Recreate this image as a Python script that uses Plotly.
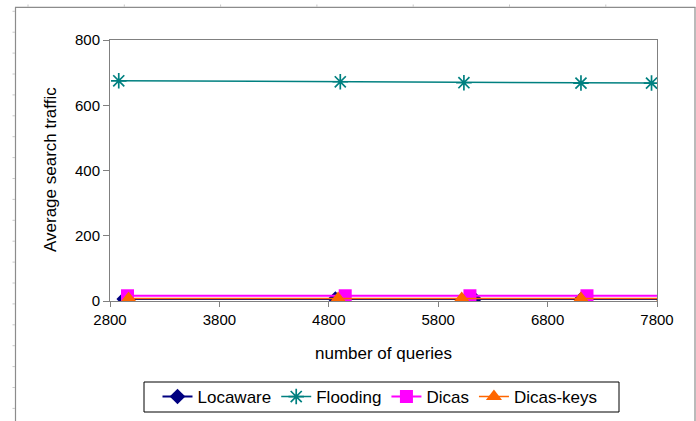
import plotly.graph_objects as go

# ---- data ----
locaware_x = [2930, 4860, 6130, 7110, 7860]
locaware_y = [6, 6, 6, 6, 6]

flooding_x = [2880, 4905, 6035, 7105, 7750]
flooding_y = [675, 672, 669, 668, 668]

dicas_x = [2960, 4950, 6090, 7160, 7860]
dicas_y = [16, 16, 16, 16, 16]

dicaskeys_x = [2970, 4885, 6015, 7105, 7860]
dicaskeys_y = [8, 8, 8, 8, 8]

x_ticks = [2800, 3800, 4800, 5800, 6800, 7800]
y_ticks = [0, 200, 400, 600, 800]

W, H = 696, 421
L, R, T, B = 110, 39, 40, 120
PW, PH = W - L - R, H - T - B

def px(x):
    return (x - L) / PW

def py(y):
    return (H - B - y) / PH

FONT = "Liberation Sans, Arial, sans-serif"

fig = go.Figure()
fig.add_trace(go.Scatter(x=locaware_x, y=locaware_y, name="Locaware", mode="lines+markers",
                         line=dict(color="#000080", width=2),
                         marker=dict(symbol="diamond", size=12, color="#000080")))
fig.add_trace(go.Scatter(x=flooding_x, y=flooding_y, name="Flooding", mode="lines+markers",
                         line=dict(color="#008080", width=1.5),
                         marker=dict(symbol="asterisk-open", size=13,
                                     line=dict(color="#008080", width=1.7))))
fig.add_trace(go.Scatter(x=dicas_x, y=dicas_y, name="Dicas", mode="lines+markers",
                         line=dict(color="#FF00FF", width=2),
                         marker=dict(symbol="square", size=13, color="#FF00FF")))
fig.add_trace(go.Scatter(x=dicaskeys_x, y=dicaskeys_y, name="Dicas-keys", mode="lines+markers",
                         line=dict(color="#FF6600", width=1.5),
                         marker=dict(symbol="triangle-up", size=14, color="#FF6600")))

# outer frame (sheet border remnants)
shapes = []
frame_col = "#8c8c8c"
shapes.append(dict(type="line", xref="paper", yref="paper", x0=px(15), x1=px(695.5), y0=py(7.3), y1=py(7.3),
                   line=dict(color=frame_col, width=1.2)))
shapes.append(dict(type="line", xref="paper", yref="paper", x0=px(15.5), x1=px(15.5), y0=py(7.3), y1=py(425),
                   line=dict(color=frame_col, width=1.2)))
shapes.append(dict(type="line", xref="paper", yref="paper", x0=px(695), x1=px(695), y0=py(7.3), y1=py(425),
                   line=dict(color=frame_col, width=1.2)))
for i in range(8):
    xx = 28 + 96.3 * i
    if xx < 694:
        shapes.append(dict(type="line", xref="paper", yref="paper", x0=px(xx), x1=px(xx), y0=py(4.5), y1=py(7),
                           line=dict(color="#c8c8c8", width=1)))
for i in range(20):
    yy = 11.3 + 20.9 * i
    if yy < 421:
        shapes.append(dict(type="line", xref="paper", yref="paper", x0=px(12.5), x1=px(15), y0=py(yy), y1=py(yy),
                           line=dict(color="#c8c8c8", width=1)))
# legend box
shapes.append(dict(type="rect", xref="paper", yref="paper", x0=px(144), x1=px(619), y0=py(382), y1=py(412),
                   line=dict(color="black", width=1), fillcolor="rgba(0,0,0,0)", layer="below"))

annotations = [
    dict(text="number of queries", xref="paper", yref="paper", x=px(383), y=py(353),
         showarrow=False, font=dict(size=17, color="black", family=FONT), xanchor="center", yanchor="middle"),
    dict(text="Average search traffic", xref="paper", yref="paper", x=px(50), y=py(170),
         showarrow=False, textangle=-90, font=dict(size=17, color="black", family=FONT),
         xanchor="center", yanchor="middle"),
]

fig.update_layout(
    width=W, height=H,
    margin=dict(l=L, r=R, t=T, b=B, autoexpand=False),
    paper_bgcolor="white", plot_bgcolor="white",
    font=dict(family=FONT, size=15, color="black"),
    showlegend=True,
    legend=dict(orientation="h", xref="container", yref="container",
                x=380 / W, xanchor="center", y=1 - 397 / H, yanchor="middle",
                bgcolor="rgba(0,0,0,0)", borderwidth=0,
                font=dict(size=17, family=FONT, color="black"),
                itemwidth=30, tracegroupgap=0),
    shapes=shapes,
    annotations=annotations,
    xaxis=dict(range=[2800, 7800], tickmode="array", tickvals=x_ticks,
               ticktext=[str(v) for v in x_ticks],
               showgrid=False, zeroline=False, showline=True, linecolor="#808080", linewidth=1,
               mirror=True, ticks="outside", ticklen=5, tickcolor="#808080",
               tickfont=dict(size=15, color="black")),
    yaxis=dict(range=[0, 800], tickmode="array", tickvals=y_ticks,
               ticktext=[str(v) for v in y_ticks],
               showgrid=False, zeroline=False, showline=True, linecolor="#808080", linewidth=1,
               mirror=True, ticks="outside", ticklen=6, tickcolor="#808080",
               tickfont=dict(size=15, color="black")),
)

fig.write_html("out.html", config={"displayModeBar": False},
               post_script="document.body.style.margin='0';document.body.style.overflow='hidden';")
